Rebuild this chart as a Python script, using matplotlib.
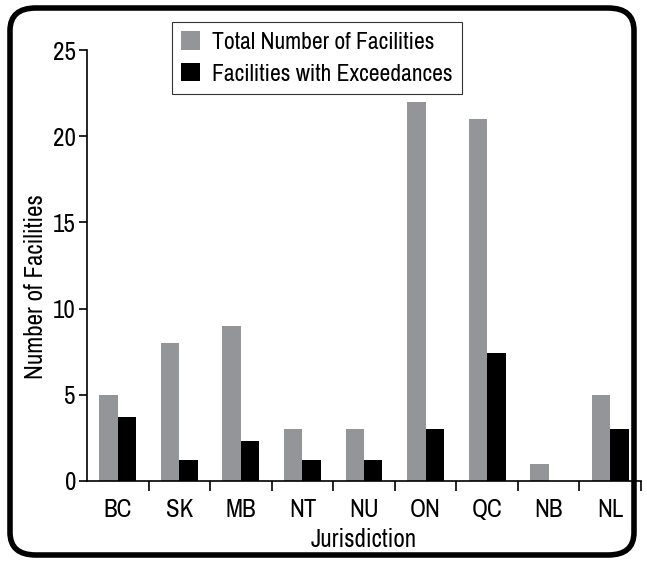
import matplotlib
matplotlib.use('Agg')
import matplotlib.pyplot as plt
import numpy as np
from matplotlib.patches import FancyBboxPatch
from matplotlib import font_manager as fm

names = sorted({f.name for f in fm.fontManager.ttflist})
narrow = [n for n in names if 'Narrow' in n or 'Condensed' in n]
plt.rcParams['font.family'] = (narrow[:1] if narrow else []) + ['DejaVu Sans']
plt.rcParams['font.stretch'] = 'condensed'

# data
jurisdictions = ['BC', 'SK', 'MB', 'NT', 'NU', 'ON', 'QC', 'NB', 'NL']
total_facilities = [5, 8, 9, 3, 3, 22, 21, 1, 5]
exceed_facilities = [3.7, 1.2, 2.3, 1.2, 1.2, 3.0, 7.4, 0, 3.0]

fs = 18
fig = plt.figure(figsize=(6.47, 5.63), dpi=100)
ax = fig.add_axes([87 / 647, 1 - 481 / 563, (641 - 87) / 647, (481 - 50) / 563])

x = np.arange(len(jurisdictions))
w = 0.3
ax.bar(x - w / 2, total_facilities, w, color='#939598', label='Total Number of Facilities')
ax.bar(x + w / 2, exceed_facilities, w, color='black', label='Facilities with Exceedances')

ax.set_xlim(-0.5, len(jurisdictions) - 0.5)
ax.set_ylim(0, 25)
ax.set_yticks([0, 5, 10, 15, 20, 25])
ax.set_xticks(x)
ax.set_xticklabels(jurisdictions)
ax.set_xticks(np.arange(len(jurisdictions)) + 0.5, minor=True)
ax.tick_params(axis='x', which='major', length=0, pad=12, labelsize=fs)
ax.tick_params(axis='x', which='minor', length=7, width=1.2, direction='out')
ax.tick_params(axis='y', length=6, width=1.2, labelsize=fs, pad=2)

for s in ['top', 'right']:
    ax.spines[s].set_visible(False)
for s in ['left', 'bottom']:
    ax.spines[s].set_linewidth(1.2)

ax.set_ylabel('Number of Facilities', fontsize=fs)
ax.yaxis.set_label_coords(-0.072, 0.45)
ax.set_xlabel('Jurisdiction', fontsize=fs, labelpad=5)

leg = ax.legend(loc='upper left', bbox_to_anchor=((172 - 87) / 554, 1 + 28 / 431),
                fontsize=17, frameon=True, fancybox=False, edgecolor='black',
                handlelength=0.8, handleheight=0.8, handletextpad=0.5,
                borderpad=0.4, labelspacing=0.45, borderaxespad=0)
leg.get_frame().set_linewidth(0.8)

# rounded border around the whole figure
border = FancyBboxPatch((10 / 647, 8 / 563), (634 - 10) / 647, (555 - 8) / 563,
                        boxstyle='round,pad=0,rounding_size=0.04',
                        transform=fig.transFigure, fill=False,
                        edgecolor='black', linewidth=4, clip_on=False)
fig.patches.append(border)

fig.savefig('out.png', dpi=100)
